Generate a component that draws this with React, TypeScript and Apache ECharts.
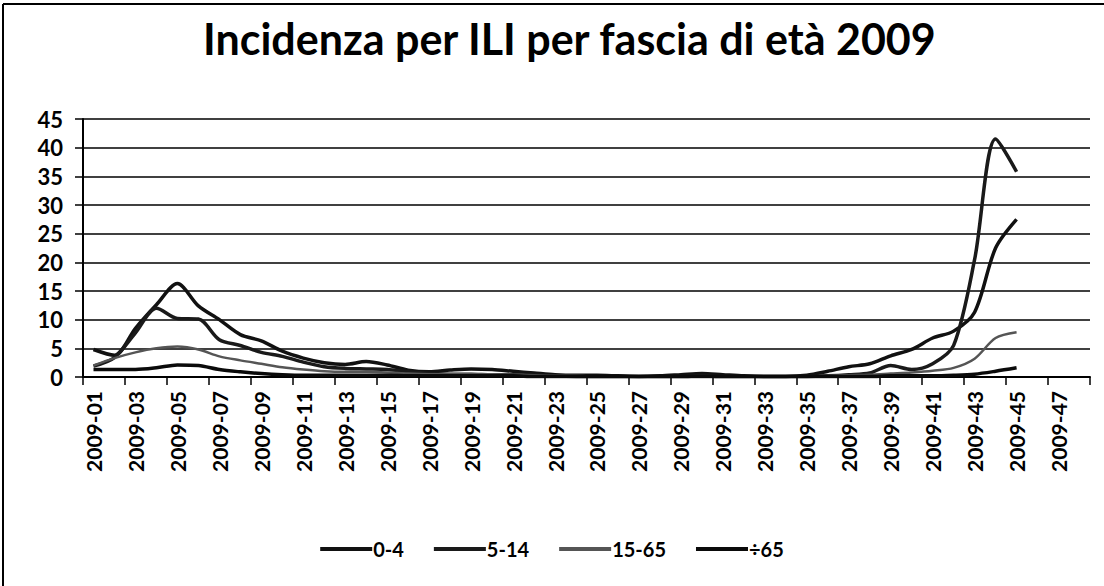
import React, { useEffect, useRef } from "react";
import * as echarts from "echarts";

const TITLE = "Incidenza per ILI per fascia di età 2009";

const weeks = [
  "2009-01", "2009-02", "2009-03", "2009-04", "2009-05", "2009-06", "2009-07", "2009-08",
  "2009-09", "2009-10", "2009-11", "2009-12", "2009-13", "2009-14", "2009-15", "2009-16",
  "2009-17", "2009-18", "2009-19", "2009-20", "2009-21", "2009-22", "2009-23", "2009-24",
  "2009-25", "2009-26", "2009-27", "2009-28", "2009-29", "2009-30", "2009-31", "2009-32",
  "2009-33", "2009-34", "2009-35", "2009-36", "2009-37", "2009-38", "2009-39", "2009-40",
  "2009-41", "2009-42", "2009-43", "2009-44", "2009-45", "2009-46", "2009-47", "2009-48",
];

const seriesNames = ["0-4", "5-14", "15-65", "÷65"];

const age0to4 = [
  4.8, 3.8, 8.5, 12.6, 16.3, 12.4, 10.0, 7.4, 6.3, 4.5,
  3.3, 2.5, 2.2, 2.7, 2.1, 1.2, 0.9, 1.2, 1.4, 1.3,
  1.0, 0.7, 0.4, 0.3, 0.3, 0.2, 0.1, 0.2, 0.4, 0.6,
  0.4, 0.2, 0.1, 0.1, 0.3, 1.0, 1.8, 2.3, 3.7, 4.8,
  6.8, 8.0, 11.3, 22.5, 27.5,
];

const age5to14 = [
  1.9, 3.4, 7.7, 12.0, 10.2, 10.1, 6.5, 5.5, 4.3, 3.6,
  2.6, 1.8, 1.5, 1.4, 1.3, 0.9, 0.6, 0.5, 0.5, 0.4,
  0.4, 0.3, 0.2, 0.1, 0.1, 0.1, 0.1, 0.1, 0.1, 0.2,
  0.1, 0.1, 0.1, 0.1, 0.1, 0.2, 0.4, 0.7, 2.0, 1.3,
  2.3, 5.5, 20.5, 41.5, 35.8,
];

const age15to65 = [
  2.0, 3.3, 4.3, 5.0, 5.3, 4.8, 3.6, 2.9, 2.3, 1.7,
  1.3, 1.0, 0.9, 0.9, 0.8, 0.6, 0.5, 0.5, 0.5, 0.5,
  0.4, 0.3, 0.2, 0.2, 0.1, 0.1, 0.1, 0.1, 0.1, 0.1,
  0.1, 0.1, 0.1, 0.1, 0.1, 0.2, 0.3, 0.4, 0.6, 0.8,
  1.1, 1.6, 3.2, 6.8, 7.8,
];

const age65plus = [
  1.3, 1.3, 1.3, 1.6, 2.1, 2.0, 1.3, 0.9, 0.6, 0.4,
  0.3, 0.3, 0.3, 0.3, 0.3, 0.2, 0.2, 0.2, 0.2, 0.2,
  0.2, 0.1, 0.1, 0.1, 0.1, 0.1, 0.1, 0.1, 0.1, 0.1,
  0.1, 0.1, 0.1, 0.1, 0.1, 0.1, 0.1, 0.1, 0.2, 0.2,
  0.2, 0.3, 0.5, 1.0, 1.6,
];

const lineColors = ["#111111", "#1a1a1a", "#555555", "#0a0a0a"];
const lineWidths = [3.5, 3.5, 2.5, 3.5];

export default function App() {
  const ref = useRef<HTMLDivElement>(null);

  useEffect(() => {
    document.body.style.margin = "0";
    if (!ref.current) return;
    const chart = echarts.init(ref.current, null, { renderer: "svg" });
    const dataSets = [age0to4, age5to14, age15to65, age65plus];
    chart.setOption({
      animation: false,
      backgroundColor: "#ffffff",
      title: {
        text: TITLE,
        left: 198,
        top: 12,
        textStyle: {
          fontFamily: "Lato",
          fontWeight: "bold",
          fontSize: 43,
          color: "#000",
        },
      },
      graphic: [
        {
          type: "line",
          shape: { x1: 3, y1: 4, x2: 1104, y2: 4 },
          style: { stroke: "#000", lineWidth: 2 },
        },
        {
          type: "line",
          shape: { x1: 3, y1: 4, x2: 3, y2: 586 },
          style: { stroke: "#000", lineWidth: 2 },
        },
      ],
      legend: {
        bottom: 22,
        left: "center",
        itemWidth: 52,
        itemHeight: 4,
        itemGap: 30,
        icon: "rect",
        data: seriesNames,
        textStyle: {
          fontFamily: "Lato",
          fontWeight: "bold",
          fontSize: 20,
          color: "#000",
          padding: [0, 0, 0, -4],
        },
      },
      grid: { left: 83, right: 14, top: 119, bottom: 209, containLabel: false },
      xAxis: {
        type: "category",
        data: weeks,
        boundaryGap: true,
        axisLine: { lineStyle: { color: "#000", width: 2 } },
        axisTick: { show: true, length: 8, lineStyle: { color: "#000", width: 1.5 } },
        axisLabel: {
          rotate: 90,
          interval: 1,
          margin: 14,
          fontFamily: "Lato",
          fontWeight: "bold",
          fontSize: 21,
          color: "#000",
        },
      },
      yAxis: {
        type: "value",
        min: 0,
        max: 45,
        interval: 5,
        axisLine: { show: true, lineStyle: { color: "#000", width: 2 } },
        axisTick: { show: true, length: 8, lineStyle: { color: "#000", width: 1.5 } },
        axisLabel: {
          fontFamily: "Lato",
          fontWeight: "bold",
          fontSize: 22,
          color: "#000",
          margin: 20,
        },
        splitLine: { show: true, lineStyle: { color: "#000", width: 1.5 } },
      },
      series: seriesNames.map((name, i) => ({
        name,
        type: "line",
        data: dataSets[i],
        smooth: 0.3,
        showSymbol: false,
        symbol: "none",
        itemStyle: { color: lineColors[i] },
        lineStyle: { color: lineColors[i], width: lineWidths[i] },
      })),
    });
    return () => chart.dispose();
  }, []);

  return <div ref={ref} style={{ width: 1104, height: 586 }} />;
}
